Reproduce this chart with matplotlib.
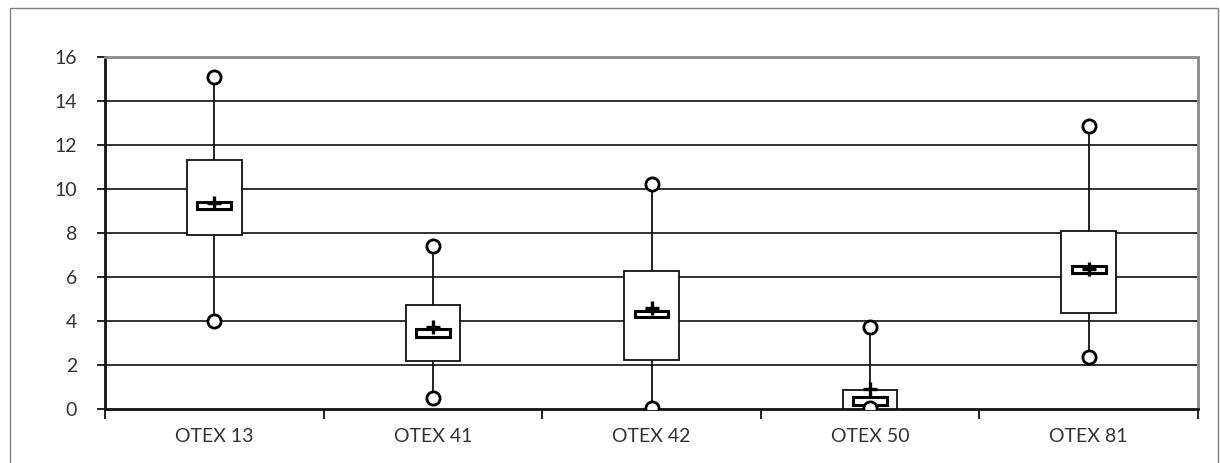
import numpy as np
import matplotlib
matplotlib.use("Agg")
import matplotlib.pyplot as plt
from matplotlib.patches import Rectangle

# --- values ---
categories = ["OTEX 13", "OTEX 41", "OTEX 42", "OTEX 50", "OTEX 81"]
q1 = [7.9, 2.17, 2.23, 0.0, 4.38]
q3 = [11.3, 4.73, 6.29, 0.86, 8.11]
minimum = [4.0, 0.51, 0.03, 0.03, 2.38]
maximum = [15.1, 7.41, 10.21, 3.71, 12.88]
median_lo = [9.09, 3.26, 4.17, 0.20, 6.17]
median_hi = [9.43, 3.62, 4.47, 0.53, 6.52]
mean = [9.36, 3.71, 4.58, 0.90, 6.35]
yticks = [0, 2, 4, 6, 8, 10, 12, 14, 16]

plt.rcParams["font.family"] = ["Lato", "DejaVu Sans"]

fig = plt.figure(figsize=(12.2, 4.63), dpi=100)
ax = fig.add_axes([105 / 1220, 54 / 463, 1093 / 1220, 352 / 463])

x = np.arange(len(categories))

# gridlines
for v in yticks[1:]:
    ax.axhline(v, color="#222222", lw=1.3, zorder=1)

# whiskers
ax.vlines(x, minimum, q1, color="#111111", lw=1.3, zorder=2)
ax.vlines(x, q3, maximum, color="#111111", lw=1.3, zorder=2)

# boxes
ax.bar(x, np.subtract(q3, q1), bottom=q1, width=0.25, facecolor="white",
       edgecolor="#111111", linewidth=1.3, zorder=3)
ax.bar(x, np.subtract(median_hi, median_lo), bottom=median_lo, width=0.155,
       facecolor="white", edgecolor="black", linewidth=2.2, zorder=4)

# min / max circles and mean plus
ax.plot(x, maximum, "o", ms=9.5, mfc="white", mec="black", mew=2, ls="none", zorder=5)
ax.plot(x, minimum, "o", ms=9.5, mfc="white", mec="black", mew=2, ls="none", zorder=5)
ax.plot(x, mean, "+", ms=10, mec="black", mew=2.4, ls="none", zorder=6)

ax.set_xlim(-0.5, len(categories) - 0.5)
ax.set_ylim(0, 16)
ax.set_yticks(yticks)
ax.set_xticks(x)
ax.set_xticklabels(categories)
ax.set_xticks(np.arange(len(categories) + 1) - 0.5, minor=True)
ax.tick_params(axis="x", which="major", length=0, pad=14, labelsize=14, labelcolor="#333333")
ax.tick_params(axis="x", which="minor", length=7, width=1.3, color="#111111")
ax.tick_params(axis="y", length=6, width=1.3, color="#111111", pad=14,
               labelsize=14, labelcolor="#333333")

ax.spines["left"].set_linewidth(2)
ax.spines["left"].set_color("#111111")
ax.spines["bottom"].set_linewidth(2)
ax.spines["bottom"].set_color("#111111")
for s in ["top", "right"]:
    ax.spines[s].set_color("#8a8a8a")
    ax.spines[s].set_linewidth(2)

# outer chart border
fig.patches.append(Rectangle((10 / 1220, -0.1), 1208 / 1220, 1.1 - 8 / 463,
                             transform=fig.transFigure, fill=False,
                             edgecolor="#7f7f7f", lw=1, clip_on=False))

fig.savefig("out.png", dpi=100)
